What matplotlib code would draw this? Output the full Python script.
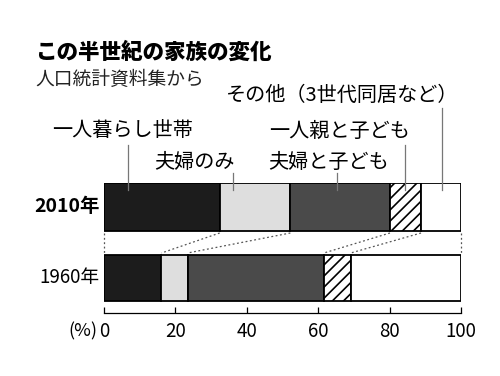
import matplotlib.pyplot as plt
import numpy as np

plt.rcParams['font.family'] = ['Noto Sans CJK JP', 'DejaVu Sans']
plt.rcParams['hatch.linewidth'] = 1.2

# data (%)
years = ["2010年", "1960年"]
categories = ["一人暮らし世帯", "夫婦のみ", "夫婦と子ども", "一人親と子ども", "その他（3世代同居など）"]
share_2010 = [32.4, 19.8, 27.9, 8.7, 11.2]
share_1960 = [16.1, 7.3, 38.2, 7.5, 30.9]
ticks = [0, 20, 40, 60, 80, 100]

# styles per category
faces = ["#1c1c1c", "#dedede", "#4a4a4a", "white", "white"]
hatches = [None, None, None, "///", None]

# label layout: (text x, text y, leader x, leader top y) in axes data units
label_pos = [
    (5.2, 182, 6.7, 168),
    (25.2, 151, 36.1, 140),
    (62.8, 151, 65.3, 140),
    (66.1, 182, 84.3, 168),
    (66.6, 218, 94.7, 205),
]

fig = plt.figure(figsize=(5, 3.76), dpi=100)
ax = fig.add_axes([104 / 500, (376 - 313) / 376, 357 / 500, 130 / 376])
ax.set_xlim(0, 100)
ax.set_ylim(0, 130)

bar_y = [106, 35]
bar_h = [48, 46]
rows = [share_2010, share_1960]
edges = []
for yc, h, vals in zip(bar_y, bar_h, rows):
    left = 0
    b = []
    for v, fc, ht in zip(vals, faces, hatches):
        ax.barh(yc, v, left=left, height=h, color=fc, hatch=ht,
                edgecolor="black", linewidth=1.3)
        b.append(left)
        left += v
    b.append(left)
    edges.append(b)

# dotted connectors between bars
for x_top, x_bot in zip(edges[0], edges[1]):
    ax.plot([x_top, x_bot], [bar_y[0] - bar_h[0] / 2 - 2, bar_y[1] + bar_h[1] / 2 + 2],
            ls=(0, (1.5, 2)), color="#555555", lw=0.9, clip_on=False)

# category labels with leader lines
for name, (tx, ty, lx, ly) in zip(categories, label_pos):
    ax.text(tx, ty, name, ha="center", va="center", fontsize=14.5)
    ax.plot([lx, lx], [ly, 123], color="#777777", lw=0.9, clip_on=False)

# year labels
ax.text(-1.2, bar_y[0], years[0], ha="right", va="center", fontsize=14, fontweight="bold")
ax.text(-1.2, bar_y[1], years[1], ha="right", va="center", fontsize=13.5)

# axis styling
for s in ["top", "left", "right"]:
    ax.spines[s].set_visible(False)
ax.spines["bottom"].set_linewidth(0.9)
ax.set_yticks([])
ax.set_xticks(ticks)
ax.tick_params(axis="x", direction="in", length=4, width=0.9, labelsize=13.5, pad=6)
ax.text(-1.8, -18, "(%)", ha="right", va="center", fontsize=13)

fig.text(35 / 500, 1 - 52 / 376, "この半世紀の家族の変化", fontsize=15.5,
         fontweight="heavy", va="center", ha="left")
fig.text(35 / 500, 1 - 79 / 376, "人口統計資料集から", fontsize=13.5,
         va="center", ha="left", color="#222222")

fig.savefig("out.png", dpi=100)
